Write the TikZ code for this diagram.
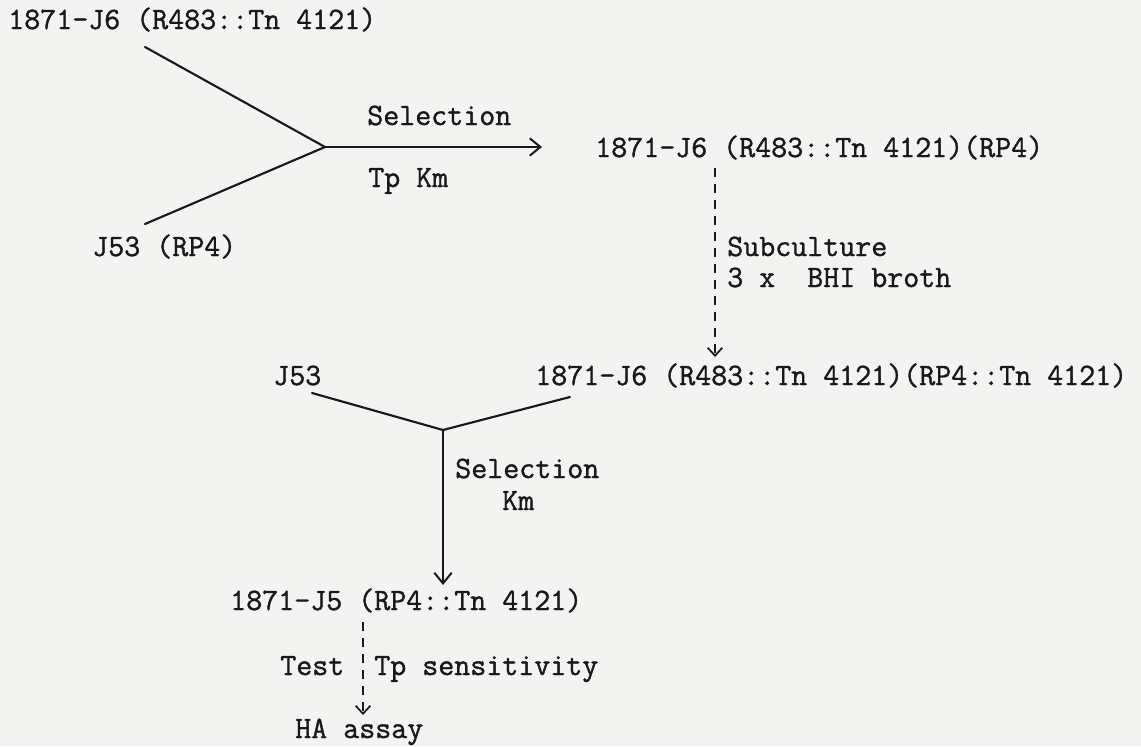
\documentclass[tikz,border=0pt]{standalone}
\usepackage{fontspec}
\setmonofont{Latin Modern Mono}[FakeBold=1.2]
\usetikzlibrary{arrows.meta}
\definecolor{paper}{RGB}{243,243,242}
\definecolor{ink}{RGB}{25,25,25}
\begin{document}
\begin{tikzpicture}[x=0.75pt,y=-0.75pt,
  lbl/.style={anchor=base west, inner sep=0pt, text=ink,
              font=\fontsize{23.3}{27}\selectfont\ttfamily},
  solidline/.style={draw=ink, line width=1.6pt, line cap=round},
  solidarrow/.style={solidline, -{Straight Barb[length=8pt,width=13pt,line width=1.5pt]}},
  dasharrow/.style={draw=ink, line width=1.3pt, dash pattern=on 7pt off 5pt,
                    -{Straight Barb[length=6pt,width=11pt,line width=1.3pt]}}]
  % paper
  \fill[paper] (0,0) rectangle (1141,746);

  % strain labels
  \node[lbl] (donor)   at (8,29)    {1871-J6 (R483::Tn 4121)};
  \node[lbl] (recip)   at (92,256)  {J53 (RP4)};
  \node[lbl] (trans)   at (595,157) {1871-J6 (R483::Tn 4121)(RP4)};
  \node[lbl] (j53)     at (273,385) {J53};
  \node[lbl] (insert)  at (535,385) {1871-J6 (R483::Tn 4121)(RP4::Tn 4121)};
  \node[lbl] (final)   at (230,610) {1871-J5 (RP4::Tn 4121)};
  \node[lbl] (assay)   at (295,738) {HA assay};

  % step labels
  \node[lbl] (sel1)  at (367,125) {Selection};
  \node[lbl] (tpkm)  at (368,187) {Tp Km};
  \node[lbl] (sub)   at (727,256) {Subculture};
  \node[lbl] (bhi)   at (727,287) {3 x\ \ BHI broth};
  \node[lbl] (sel2)  at (455,478) {Selection};
  \node[lbl] (km)    at (502,510) {Km};
  \node[lbl] (test)  at (280,675) {Test};
  \node[lbl] (tps)   at (374,675) {Tp sensitivity};

  % connector end points
  \coordinate (a1) at (145,47);
  \coordinate (a2) at (145,224);
  \coordinate (j1) at (325,147);
  \coordinate (a3) at (542,147);
  \coordinate (b1) at (715,168);
  \coordinate (b2) at (715,357);
  \coordinate (c1) at (312,393);
  \coordinate (c2) at (570,397);
  \coordinate (j2) at (443,430);
  \coordinate (c3) at (443,585);
  \coordinate (d1) at (363,622);
  \coordinate (d2) at (363,715);

  % first mating
  \draw[solidline] (a1) -- (j1);
  \draw[solidline] (a2) -- (j1);
  \draw[solidarrow] (j1) -- (a3);
  % subculture
  \draw[dasharrow] (b1) -- (b2);
  % second mating
  \draw[solidline] (c1) -- (j2);
  \draw[solidline] (c2) -- (j2);
  \draw[solidarrow] (j2) -- (c3);
  % test
  \draw[dasharrow] (d1) -- (d2);
\end{tikzpicture}
\end{document}
